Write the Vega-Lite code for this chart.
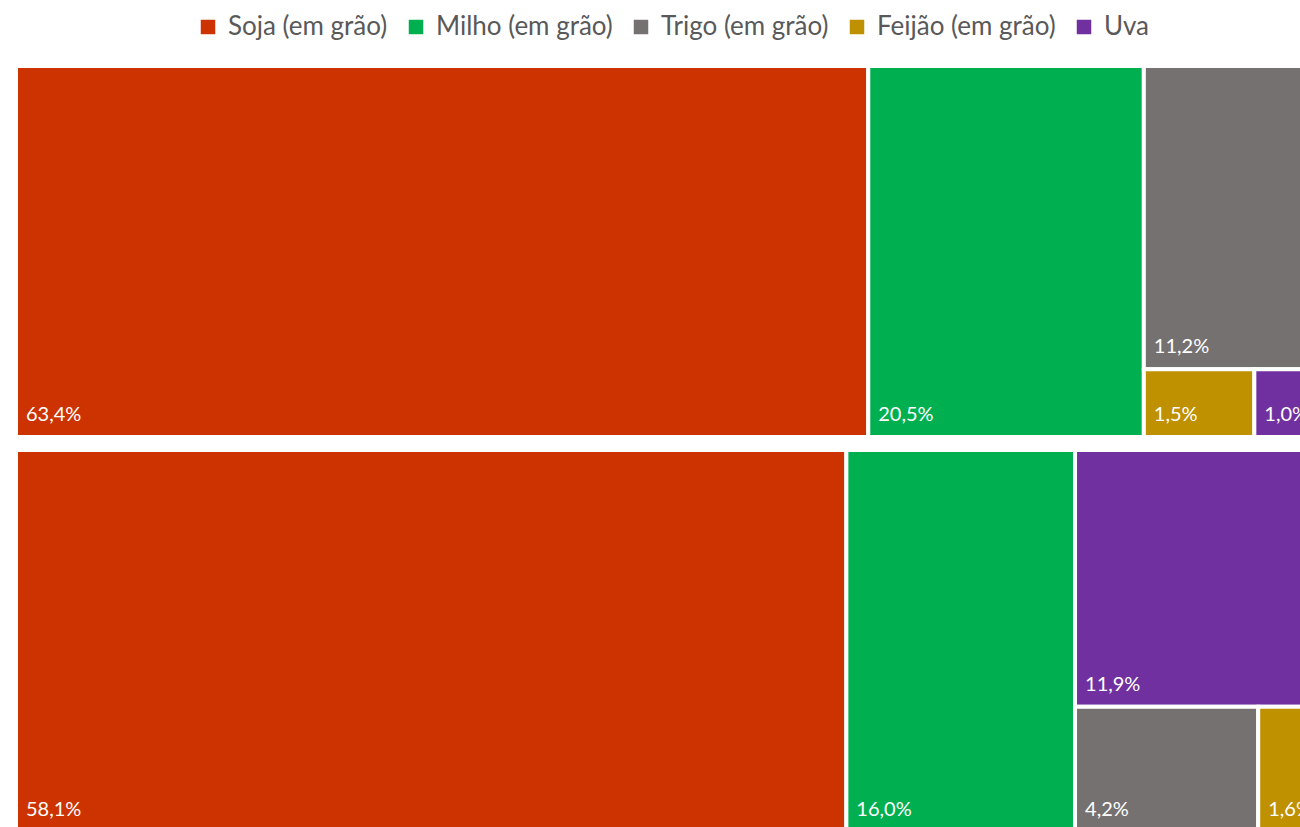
{
  "$schema": "https://vega.github.io/schema/vega-lite/v6.json",
  "padding": {"left": 16, "top": 14, "right": 0, "bottom": 0},
  "spacing": 13,
  "data": {
    "values": [
      {"painel": "A", "cultura": "Soja (em grão)", "valor": 63.4, "coluna": 1, "linha": 1, "ordem": 1},
      {"painel": "A", "cultura": "Milho (em grão)", "valor": 20.5, "coluna": 2, "linha": 1, "ordem": 2},
      {"painel": "A", "cultura": "Trigo (em grão)", "valor": 11.2, "coluna": 3, "linha": 1, "ordem": 3},
      {"painel": "A", "cultura": "Feijão (em grão)", "valor": 1.5, "coluna": 3, "linha": 2, "ordem": 4},
      {"painel": "A", "cultura": "Uva", "valor": 1.0, "coluna": 3, "linha": 2, "ordem": 5},
      {"painel": "B", "cultura": "Soja (em grão)", "valor": 58.1, "coluna": 1, "linha": 1, "ordem": 1},
      {"painel": "B", "cultura": "Milho (em grão)", "valor": 16.0, "coluna": 2, "linha": 1, "ordem": 2},
      {"painel": "B", "cultura": "Uva", "valor": 11.9, "coluna": 3, "linha": 1, "ordem": 3},
      {"painel": "B", "cultura": "Trigo (em grão)", "valor": 4.2, "coluna": 3, "linha": 2, "ordem": 4},
      {"painel": "B", "cultura": "Feijão (em grão)", "valor": 1.6, "coluna": 3, "linha": 2, "ordem": 5}
    ]
  },
  "transform": [
    {"joinaggregate": [{"op": "sum", "field": "valor", "as": "total"}], "groupby": ["painel"]},
    {"joinaggregate": [{"op": "sum", "field": "valor", "as": "colTot"}], "groupby": ["painel", "coluna"]},
    {"joinaggregate": [{"op": "sum", "field": "valor", "as": "rowTot"}], "groupby": ["painel", "coluna", "linha"]},
    {"window": [{"op": "sum", "field": "valor", "as": "cumEnd"}], "sort": [{"field": "ordem"}], "groupby": ["painel"], "frame": [null, 0]},
    {"calculate": "datum.cumEnd - datum.valor", "as": "cumStart"},
    {"joinaggregate": [{"op": "min", "field": "cumStart", "as": "colStart"}], "groupby": ["painel", "coluna"]},
    {"joinaggregate": [{"op": "min", "field": "cumStart", "as": "rowStart"}], "groupby": ["painel", "coluna", "linha"]},
    {"calculate": "(datum.colStart + (datum.cumStart - datum.rowStart) / datum.rowTot * datum.colTot) / datum.total", "as": "x0"},
    {"calculate": "datum.x0 + datum.valor / datum.rowTot * datum.colTot / datum.total", "as": "x1"},
    {"calculate": "(datum.rowStart - datum.colStart) / datum.colTot", "as": "y0"},
    {"calculate": "datum.y0 + datum.rowTot / datum.colTot", "as": "y1"},
    {"calculate": "datum.valor / 100", "as": "frac"}
  ],
  "vconcat": [
    {
      "width": 1284,
      "height": 371,
      "transform": [{"filter": "datum.painel == 'A'"}],
      "encoding": {
        "x": {"field": "x0", "type": "quantitative", "scale": {"domain": [0, 0.97866], "nice": false, "zero": false}, "axis": null},
        "y": {"field": "y0", "type": "quantitative", "scale": {"domain": [0, 1], "nice": false, "zero": false, "reverse": true}, "axis": null}
      },
      "layer": [
        {
          "mark": {"type": "rect", "stroke": "white", "strokeWidth": 4, "clip": true},
          "encoding": {
            "x2": {"field": "x1"},
            "y2": {"field": "y1"},
            "color": {
              "field": "cultura", "type": "nominal",
              "scale": {"domain": ["Soja (em grão)", "Milho (em grão)", "Trigo (em grão)", "Feijão (em grão)", "Uva"], "range": ["#CC3300", "#00B050", "#767171", "#BF9000", "#7030A0"]},
              "legend": {"orient": "none", "legendX": 179, "legendY": -52, "direction": "horizontal", "title": null, "symbolType": "square", "symbolSize": 210, "symbolStrokeWidth": 0, "labelFont": "Lato", "labelFontSize": 26, "labelColor": "#595959", "labelOffset": 7, "labelLimit": 0, "columnPadding": 15, "padding": 0}
            }
          }
        },
        {
          "mark": {"type": "text", "align": "left", "baseline": "alphabetic", "dx": 10, "dy": -16, "color": "white", "font": "Lato", "fontSize": 20, "clip": true},
          "encoding": {
            "y": {"field": "y1", "type": "quantitative"},
            "text": {"field": "frac", "type": "quantitative", "format": ".1%"}
          }
        }
      ]
    },
    {
      "width": 1284,
      "height": 377,
      "transform": [{"filter": "datum.painel == 'B'"}],
      "encoding": {
        "x": {"field": "x0", "type": "quantitative", "scale": {"domain": [0, 0.97866], "nice": false, "zero": false}, "axis": null},
        "y": {"field": "y0", "type": "quantitative", "scale": {"domain": [0, 0.987], "nice": false, "zero": false, "reverse": true}, "axis": null}
      },
      "layer": [
        {
          "mark": {"type": "rect", "stroke": "white", "strokeWidth": 4, "clip": true},
          "encoding": {
            "x2": {"field": "x1"},
            "y2": {"field": "y1"},
            "color": {
              "field": "cultura", "type": "nominal",
              "scale": {"domain": ["Soja (em grão)", "Milho (em grão)", "Trigo (em grão)", "Feijão (em grão)", "Uva"], "range": ["#CC3300", "#00B050", "#767171", "#BF9000", "#7030A0"]},
              "legend": {"orient": "none", "legendX": 179, "legendY": -52, "direction": "horizontal", "title": null, "symbolType": "square", "symbolSize": 210, "symbolStrokeWidth": 0, "labelFont": "Lato", "labelFontSize": 26, "labelColor": "#595959", "labelOffset": 7, "labelLimit": 0, "columnPadding": 15, "padding": 0}
            }
          }
        },
        {
          "mark": {"type": "text", "align": "left", "baseline": "alphabetic", "dx": 10, "dy": -16, "color": "white", "font": "Lato", "fontSize": 20, "clip": true},
          "encoding": {
            "y": {"field": "y1", "type": "quantitative"},
            "text": {"field": "frac", "type": "quantitative", "format": ".1%"}
          }
        }
      ]
    }
  ],
  "resolve": {"scale": {"color": "shared"}},
  "config": {
    "view": {"stroke": null},
    "locale": {"number": {"decimal": ",", "thousands": ".", "grouping": [3], "currency": ["R$ ", ""]}}
  }
}
